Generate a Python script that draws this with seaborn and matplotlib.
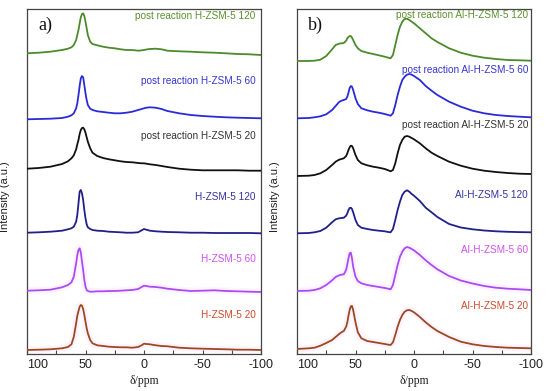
import numpy as np
import pandas as pd
import seaborn as sns
import matplotlib
matplotlib.use("Agg")
import matplotlib.pyplot as plt
from matplotlib.ticker import FixedLocator

# ---------------- data ----------------
ppm_a = [100, 90, 80, 70, 65, 62, 60, 58, 57, 56, 55, 54, 53, 52, 51, 50, 49, 48,
         46, 44, 40, 35, 30, 25, 20, 15, 10, 5, 2, 0, -2, -5, -10, -15, -20, -30,
         -40, -50, -60, -70, -80, -90, -100]

post_hzsm5_120 = [1.7, 2.3, 3.3, 5.0, 6.3, 7.7, 10.0, 15.0, 20.0, 25.0, 31.7, 37.7, 41.0, 41.7, 39.0, 33.3, 26.7, 20.0,
                  13.3, 11.0, 9.7, 8.3, 7.3, 6.7, 5.7, 5.0, 5.0, 4.3, 4.7, 5.0, 5.5, 6.0, 6.3, 5.7, 4.3, 3.7,
                  3.3, 2.7, 2.3, 1.7, 1.0, 0.7, 0.0]
post_hzsm5_60 = [0.7, 1.0, 1.3, 2.0, 3.3, 4.7, 6.7, 11.7, 16.7, 25.0, 34.0, 41.7, 44.0, 42.7, 35.0, 26.7, 20.0, 15.0,
                 11.3, 10.0, 8.7, 8.0, 7.3, 6.7, 6.7, 7.3, 8.3, 10.0, 11.0, 11.7, 12.3, 12.7, 12.3, 11.0, 9.0, 6.7,
                 5.0, 4.0, 3.3, 2.7, 2.3, 2.0, 1.7]
post_hzsm5_20 = [2.3, 3.0, 4.3, 7.0, 9.7, 12.7, 15.7, 21.7, 26.7, 31.0, 37.0, 41.0, 43.0, 43.3, 41.7, 38.3, 33.7, 29.3,
                 22.7, 18.3, 15.0, 13.0, 11.7, 10.7, 9.7, 9.0, 8.7, 8.0, 7.7, 7.7, 7.3, 6.7, 6.0, 5.0, 4.0, 2.3,
                 1.3, 0.7, 0.7, 0.7, 0.7, 0.3, 0.3]
hzsm5_120 = [1.3, 1.7, 2.3, 3.3, 4.7, 5.7, 7.3, 12.3, 19.0, 30.7, 42.3, 44.0, 40.7, 34.0, 24.0, 15.7, 9.7, 6.7,
             5.0, 4.0, 3.3, 3.0, 2.3, 2.0, 1.7, 1.3, 1.3, 1.7, 3.7, 5.0, 4.3, 3.3, 2.7, 2.3, 2.0, 1.7,
             1.3, 1.3, 1.0, 1.0, 1.0, 1.0, 0.7]
hzsm5_60 = [1.3, 1.7, 2.3, 4.7, 7.0, 9.7, 15.3, 28.7, 37.0, 42.0, 43.7, 39.7, 30.3, 22.0, 12.0, 5.3, 2.0, 1.0,
            0.3, 0.3, 0.7, 0.7, 1.0, 1.0, 1.3, 1.7, 2.0, 3.0, 5.0, 6.3, 6.0, 5.3, 5.0, 4.3, 3.3, 2.0,
            1.0, 1.3, 1.7, 1.0, 0.7, 0.3, 0.0]
hzsm5_20 = [1.0, 1.3, 1.7, 2.7, 4.0, 6.7, 14.3, 27.7, 35.3, 40.0, 44.3, 46.0, 45.3, 42.0, 36.0, 29.3, 22.7, 17.7,
            11.0, 7.7, 5.7, 5.0, 4.3, 4.0, 3.7, 3.7, 3.3, 4.0, 5.7, 7.3, 7.0, 6.7, 5.7, 5.0, 4.7, 3.3,
            2.7, 2.3, 2.0, 1.7, 1.3, 1.3, 1.0]

ppm_b = [100, 90, 85, 80, 75, 70, 67, 64, 62, 60, 58, 57, 56, 55, 54, 53, 52, 50, 48, 45,
         40, 35, 30, 25, 22, 20, 18, 16, 14, 12, 10, 8, 6, 4, 2, 0, -5, -10, -15, -20,
         -30, -40, -50, -60, -70, -80, -90, -100]

post_alhzsm5_120 = [0, 0, 0.3, 1.3, 5, 11.7, 16, 17.3, 17.7, 18, 20.3, 22.7, 24, 25, 25, 23.3, 21, 16, 12.7, 10,
                    8.3, 7, 5.7, 4.3, 3.3, 2.7, 6, 16, 26, 34.3, 39.3, 42, 42.3, 41, 39.3, 37.7, 32.7, 27.7, 22.7, 19,
                    12.7, 8.3, 5.3, 3.3, 2, 1, 0.7, 0.3]
post_alhzsm5_60 = [0.7, 1, 1.7, 2.7, 4.7, 9, 13, 17, 18.3, 19, 20, 22.3, 26.3, 31, 33, 32.3, 29, 20.7, 15, 10.7,
                   8.7, 7.3, 6.3, 5, 4, 3.3, 5.7, 14, 24, 32.3, 39, 42.3, 44.3, 45, 44.3, 43, 39, 33, 28.3, 24,
                   17.3, 12.3, 8.3, 5.7, 4, 3, 2.3, 1.7]
post_alhzsm5_20 = [0, 0.3, 1, 2.7, 6, 11, 14.3, 16.3, 17, 17.7, 20, 22.7, 26, 28.7, 30.3, 30, 27.7, 21, 16, 12.7,
                   10.7, 9.3, 8.3, 7, 5.7, 4.7, 6, 12.7, 22.7, 31, 36, 39.3, 40, 39.3, 38, 36.7, 32.7, 27.7, 23.3, 20,
                   14.3, 10.3, 7.3, 5.3, 4, 3, 2.3, 2]
alhzsm5_120 = [0.7, 1, 1.7, 3, 6.3, 11.7, 14.7, 15.7, 16, 16.3, 18.3, 20.7, 24, 26, 26.3, 25, 21.7, 14, 9, 6.3,
               5, 4, 3.3, 2.7, 2, 1.7, 5, 14, 24, 32.3, 39, 42.3, 43.7, 42.3, 40, 38.3, 33, 26.3, 21.7, 17,
               10, 6.5, 4.7, 3.5, 2.7, 2.2, 1.9, 1.7]
alhzsm5_60 = [1, 1.3, 2, 3.7, 7, 11.7, 15, 16.7, 17.3, 17.7, 22, 27.7, 33.7, 38.7, 39.3, 33.7, 25.3, 15.3, 11, 8.7,
              7, 6, 5, 4, 3.3, 2.7, 7, 17, 27, 35.3, 40.3, 43.7, 45, 44.3, 43, 41.7, 37, 31.7, 27, 22.7,
              16, 11.5, 8.5, 6, 4.3, 3.3, 2.7, 2]
alhzsm5_20 = [2, 2.7, 3.3, 5.3, 8, 11, 14, 17, 18.7, 20, 24.3, 28.7, 35.3, 41, 44.7, 45, 41, 28.7, 18.7, 12.7,
              10, 9, 8, 7, 6.3, 6, 8.7, 16, 24.3, 31, 36, 39.3, 40.7, 41, 40, 38.7, 34, 28.7, 24, 20,
              14, 9.3, 6.7, 5, 4, 3.3, 3, 2.7]

labels_a = ["post reaction H-ZSM-5 120", "post reaction H-ZSM-5 60", "post reaction H-ZSM-5 20",
            "H-ZSM-5 120", "H-ZSM-5 60", "H-ZSM-5 20"]
labels_b = ["post reaction Al-H-ZSM-5 120", "post reaction Al-H-ZSM-5 60", "post reaction Al-H-ZSM-5 20",
            "Al-H-ZSM-5 120", "Al-H-ZSM-5 60", "Al-H-ZSM-5 20"]
x_tick_labels = ["100", "50", "0", "-50", "-100"]
offsets_a = [299, 234, 183, 120, 62, 3]
offsets_b = [293, 235, 178, 120, 62, 3]
label_y_a = [338, 273, 218, 157, 95, 39]
label_y_b = [339, 284, 229, 159, 104, 48]

line_colors = ["#4c8a2c", "#2a2ad8", "#111111", "#20208c", "#a94cf2", "#9a4a1f"]
text_colors = ["#5a922e", "#3535d0", "#333333", "#33339a", "#cf52f0", "#cc4a2a"]

traces_a = [post_hzsm5_120, post_hzsm5_60, post_hzsm5_20, hzsm5_120, hzsm5_60, hzsm5_20]
traces_b = [post_alhzsm5_120, post_alhzsm5_60, post_alhzsm5_20, alhzsm5_120, alhzsm5_60, alhzsm5_20]

# ---------------- style ----------------
sns.set_theme(style="white")
plt.rcParams["font.family"] = ["Liberation Sans", "DejaVu Sans"]
plt.rcParams["axes.unicode_minus"] = False


def long_frame(grid, traces, offsets, names):
    frames = []
    for tr, off, nm in zip(traces, offsets, names):
        frames.append(pd.DataFrame({"ppm": grid,
                                    "y": np.asarray(tr, dtype=float) + off,
                                    "series": nm}))
    return pd.concat(frames, ignore_index=True)


fig = plt.figure(figsize=(5.5, 3.91), dpi=100)
W, H = 550.0, 391.0
ax_a = fig.add_axes([27 / W, 1 - 353.5 / H, 234 / W, 344.5 / H])
ax_b = fig.add_axes([297 / W, 1 - 353.5 / H, 234 / W, 344.5 / H])

panels = [
    (ax_a, ppm_a, traces_a, offsets_a, labels_a, label_y_a, "a)", -95.5),
    (ax_b, ppm_b, traces_b, offsets_b, labels_b, label_y_b, "b)", -97.5),
]

for ax, grid, traces, offsets, names, ly, tag, lx in panels:
    df = long_frame(grid, traces, offsets, names)
    # faint pink halo seen around the purple / brown traces
    for nm in names[4:]:
        sub = df[df["series"] == nm]
        ax.plot(sub["ppm"], sub["y"], color="#ff66ff", lw=5, alpha=0.08, zorder=1)
    sns.lineplot(data=df, x="ppm", y="y", hue="series", hue_order=names,
                 palette=dict(zip(names, line_colors)), legend=False,
                 linewidth=1.3, ax=ax, sort=False, estimator=None, zorder=3)
    for nm, yy, c in zip(names, ly, text_colors):
        ax.text(lx, yy, nm, color=c, fontsize=7.2, ha="right", va="center")
    ax.text(0.078, 0.952, tag, transform=ax.transAxes, fontsize=13,
            family=["Liberation Serif", "DejaVu Serif"], ha="center", va="center",
            color="#111111")

    ax.set_xlim(100, -100)
    ax.set_ylim(0.5, 345)
    ax.xaxis.set_major_locator(FixedLocator([100, 50, 0, -50, -100]))
    ax.xaxis.set_minor_locator(FixedLocator([75, 25, -25, -75]))
    ax.set_xticklabels(x_tick_labels)
    ax.tick_params(axis="x", which="both", direction="in", length=3, width=0.8,
                   color="#444444", labelsize=9, pad=4, bottom=True, top=False,
                   labelcolor="#222222")
    ax.set_yticks([])
    for sp in ax.spines.values():
        sp.set_color("#444444")
        sp.set_linewidth(0.9)
    ax.set_xlabel("δ/ppm", family=["Liberation Serif", "DejaVu Serif"], fontsize=8.5,
                  labelpad=2.5, color="#222222")
    ax.set_ylabel("Intensity (a.u.)", fontsize=8, color="#222222")
    ax.yaxis.set_label_coords(-0.072, 0.455)
    tl = ax.get_xticklabels()
    tl[0].set_ha("left")

fig.savefig("out.png", dpi=100)
